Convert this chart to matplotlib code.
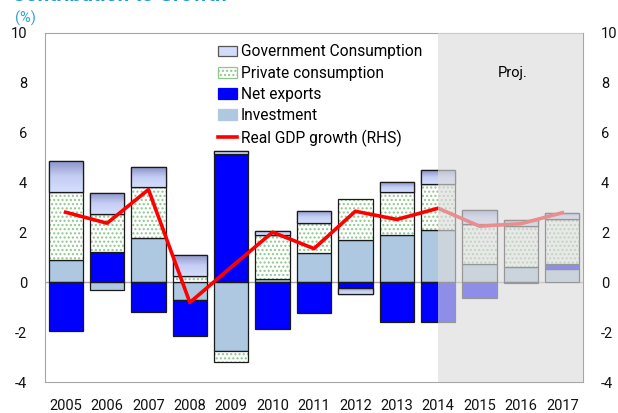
import numpy as np
import matplotlib
matplotlib.use("Agg")
import matplotlib.pyplot as plt
from matplotlib.patches import Patch
from matplotlib.lines import Line2D
from matplotlib.colors import LinearSegmentedColormap

plt.rcParams["font.family"] = ["Roboto", "DejaVu Sans"]
plt.rcParams["axes.unicode_minus"] = False

years = [str(y) for y in range(2005, 2018)]
investment = [0.91, -0.29, 1.76, -0.73, -2.75, 0.15, 1.17, 1.68, 1.89, 2.08, 0.75, 0.61, 0.52]
net_exports = [-1.95, 1.21, -1.21, -1.43, 5.15, -1.87, -1.24, -0.23, -1.61, -1.60, -0.63, -0.03, 0.20]
private = [2.72, 1.51, 2.08, 0.25, -0.44, 1.74, 1.19, 1.67, 1.72, 1.85, 1.60, 1.63, 1.83]
government = [1.25, 0.87, 0.80, 0.86, 0.10, 0.18, 0.49, -0.22, 0.40, 0.56, 0.54, 0.24, 0.22]
gdp_growth = [2.81, 2.37, 3.72, -0.81, 0.61, 2.01, 1.35, 2.85, 2.52, 2.97, 2.25, 2.35, 2.79]
proj_start = 2014

C_INV, C_NX, C_GOV = "#adc8e0", "#0000ff", "#d2dcfa"
C_DOT = "#8cc78c"
EDGE = "#1a1a1a"
gov_cmap = LinearSegmentedColormap.from_list("gov", ["#d4defd", "#c4cdf3", "#8a90c8"])

fig = plt.figure(figsize=(6.18, 4.13), dpi=100)
ax = fig.add_axes([45 / 618, 31 / 413, 538 / 618, 349 / 413])

x = np.arange(len(years))
w = 0.83
pos_base = np.zeros(len(years))
neg_base = np.zeros(len(years))
grad = np.linspace(0, 1, 64).reshape(-1, 1)
for name, vals, col in [("inv", investment, C_INV), ("nx", net_exports, C_NX),
                        ("priv", private, "white"), ("gov", government, C_GOV)]:
    vals = np.array(vals)
    base = np.where(vals >= 0, pos_base, neg_base)
    if name == "priv":
        ax.bar(x, vals, w, bottom=base, color="white", edgecolor=C_DOT,
               hatch="....", linewidth=0, zorder=2)
        ax.bar(x, vals, w, bottom=base, fill=False, edgecolor=EDGE,
               linewidth=0.9, zorder=2)
    elif name == "gov":
        bars = ax.bar(x, vals, w, bottom=base, color=col, edgecolor=EDGE,
                      linewidth=0.9, zorder=2)
        for b in bars:
            x0, y0 = b.get_x(), b.get_y()
            y1 = y0 + b.get_height()
            lo, hi = min(y0, y1), max(y0, y1)
            im = ax.imshow(grad, extent=(x0, x0 + w, lo, hi), origin="lower",
                           cmap=gov_cmap, aspect="auto", zorder=2.05)
            im.set_clip_path(b)
        ax.bar(x, vals, w, bottom=base, fill=False, edgecolor=EDGE,
               linewidth=0.9, zorder=2.1)
    else:
        ax.bar(x, vals, w, bottom=base, color=col, edgecolor=EDGE,
               linewidth=0.9, zorder=2)
    pos_base += np.where(vals >= 0, vals, 0)
    neg_base += np.where(vals < 0, vals, 0)

ax.axhline(0, color="#a6a6a6", lw=1, zorder=1)
ax.plot(x, gdp_growth, color="#ff0000", lw=2.6, zorder=3)

# projection shading drawn over bars and line
i0 = years.index(str(proj_start))
ax.axvspan(i0, len(years) - 0.5, color="#dcdcdc", alpha=0.65, lw=0, zorder=4)
ax.text(10.8, 8.4, "Proj.", fontsize=10.5, ha="center", va="center", zorder=5)

ax.set_xlim(-0.5, len(years) - 0.5)
ax.set_ylim(-4, 10)
ax.set_yticks(np.arange(-4, 11, 2))
ax.set_xticks(x)
ax.set_xticklabels(years)
ax.tick_params(axis="both", length=0, labelsize=10.5, labelcolor="#111111")
ax.tick_params(axis="x", pad=12)
ax.tick_params(axis="y", pad=13, labelright=True)
for s in ax.spines.values():
    s.set_color("#a6a6a6")

handles = [
    Patch(facecolor=C_GOV, edgecolor="#555555", lw=0.9),
    Patch(facecolor="white", edgecolor=C_DOT, hatch="....", lw=0.9),
    Patch(facecolor=C_NX, edgecolor=C_NX, lw=0.9),
    Patch(facecolor=C_INV, edgecolor=C_INV, lw=0.9),
    Line2D([], [], color="#ff0000", lw=2.6),
]
labels = ["Government Consumption", "Private consumption", "Net exports",
          "Investment", "Real GDP growth (RHS)"]
ax.legend(handles, labels, loc="upper left", bbox_to_anchor=(0.31, 0.985),
          frameon=False, fontsize=11.2, handlelength=1.25, handletextpad=0.2,
          labelspacing=0.4, borderaxespad=0)

fig.text(25 / 618, 1 - 18 / 413, "(%)", color="#2ea3d8", fontsize=10.5,
         ha="center", va="center")
fig.text(12 / 618, 1 - 1 / 413, "Contribution to Growth", color="#1f9ad6",
         fontsize=15, fontweight="bold", ha="left", va="baseline")

fig.savefig("out.png", dpi=100)
